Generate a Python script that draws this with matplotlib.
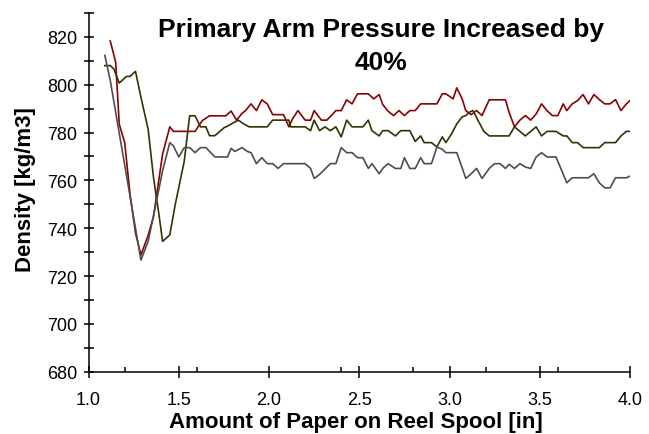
"""
Density of the wound paper against the amount of paper on the reel spool,
for the run with the primary arm pressure increased by 40%.
"""

import matplotlib
matplotlib.use("Agg")
from matplotlib import pyplot as plt
from matplotlib.ticker import MultipleLocator

# Trial 1 (dark red)
red_x = [1.12, 1.15, 1.17, 1.20, 1.23, 1.26, 1.29, 1.33, 1.36, 1.41, 1.45,
         1.47, 1.59, 1.63, 1.67, 1.76, 1.79, 1.82, 1.85, 1.87, 1.90, 1.93,
         1.96, 1.99, 2.02, 2.08, 2.11, 2.13, 2.16, 2.20, 2.23, 2.25, 2.29,
         2.32, 2.35, 2.37, 2.40, 2.43, 2.46, 2.49, 2.55, 2.58, 2.61, 2.63,
         2.66, 2.69, 2.72, 2.75, 2.78, 2.81, 2.84, 2.93, 2.96, 2.98, 3.02,
         3.04, 3.07, 3.09, 3.12, 3.15, 3.18, 3.22, 3.31, 3.33, 3.36, 3.39,
         3.42, 3.45, 3.48, 3.51, 3.54, 3.57, 3.60, 3.63, 3.65, 3.68, 3.71,
         3.74, 3.77, 3.80, 3.83, 3.86, 3.89, 3.92, 3.95, 3.98, 4.00, 4.02]
red_rho = [818.3, 809.5, 783.5, 775.8, 754.0, 738.0, 728.8, 737.0, 745.0,
           771.0, 782.4, 780.5, 780.5, 785.0, 787.0, 787.0, 789.0, 785.2,
           788.0, 789.2, 792.0, 789.2, 793.7, 792.0, 787.5, 787.5, 782.4,
           785.7, 789.2, 785.2, 785.2, 789.2, 785.2, 785.2, 787.5, 789.2,
           789.2, 793.7, 792.0, 796.2, 796.2, 794.1, 795.9, 791.7, 788.9,
           787.1, 789.2, 787.1, 789.2, 789.2, 792.0, 792.0, 796.2, 796.2,
           794.1, 798.7, 794.1, 789.2, 787.5, 789.2, 787.1, 793.7, 793.7,
           788.5, 782.4, 785.2, 787.1, 785.2, 787.8, 792.0, 789.2, 787.1,
           787.1, 792.0, 789.2, 792.0, 793.4, 795.9, 792.0, 795.9, 793.8,
           792.0, 792.0, 793.8, 789.2, 792.0, 793.4, 794.0]

# Trial 2 (dark olive)
olive_x = [1.09, 1.12, 1.14, 1.17, 1.21, 1.23, 1.26, 1.29, 1.33, 1.36, 1.39,
           1.41, 1.45, 1.48, 1.53, 1.56, 1.59, 1.62, 1.65, 1.67, 1.70, 1.75,
           1.77, 1.80, 1.83, 1.86, 1.89, 1.99, 2.02, 2.11, 2.12, 2.20, 2.23,
           2.25, 2.28, 2.31, 2.34, 2.37, 2.40, 2.43, 2.46, 2.52, 2.55, 2.57,
           2.61, 2.63, 2.66, 2.70, 2.73, 2.78, 2.81, 2.84, 2.86, 2.90, 2.93,
           2.96, 2.98, 3.01, 3.04, 3.07, 3.09, 3.11, 3.13, 3.16, 3.19, 3.22,
           3.33, 3.36, 3.39, 3.42, 3.45, 3.48, 3.51, 3.54, 3.59, 3.63, 3.65,
           3.68, 3.71, 3.74, 3.83, 3.86, 3.92, 3.95, 3.98, 4.02]
olive_rho = [808.0, 808.0, 806.6, 800.7, 803.5, 803.5, 805.6, 794.8, 781.4,
             761.0, 745.7, 734.5, 737.2, 749.9, 768.0, 787.0, 787.0, 782.4,
             782.4, 778.7, 778.7, 782.0, 782.7, 784.0, 785.2, 783.6, 782.4,
             782.4, 785.2, 785.2, 782.4, 782.4, 780.8, 785.2, 780.8, 782.4,
             780.8, 782.4, 778.2, 785.2, 782.4, 782.4, 785.2, 780.8, 778.6,
             780.8, 780.8, 778.6, 780.8, 780.8, 776.3, 778.6, 775.8, 775.8,
             774.0, 778.2, 775.8, 779.3, 783.6, 786.6, 787.1, 788.5, 789.2,
             784.8, 780.5, 778.6, 778.6, 782.4, 780.5, 778.6, 780.5, 782.4,
             778.6, 780.5, 780.5, 778.6, 778.6, 775.8, 775.8, 773.7, 773.7,
             775.8, 775.8, 778.6, 780.5, 780.5]

# Trial 3 (dark grey)
grey_x = [1.09, 1.12, 1.29, 1.33, 1.37, 1.41, 1.45, 1.47, 1.50, 1.53, 1.56,
          1.59, 1.62, 1.65, 1.70, 1.77, 1.79, 1.81, 1.85, 1.88, 1.90, 1.93,
          1.96, 1.99, 2.02, 2.05, 2.08, 2.20, 2.23, 2.25, 2.28, 2.34, 2.37,
          2.40, 2.43, 2.46, 2.49, 2.52, 2.55, 2.57, 2.61, 2.63, 2.66, 2.70,
          2.73, 2.75, 2.78, 2.81, 2.84, 2.86, 2.90, 2.93, 2.96, 2.98, 3.04,
          3.07, 3.09, 3.12, 3.15, 3.18, 3.22, 3.25, 3.28, 3.31, 3.33, 3.36,
          3.39, 3.42, 3.45, 3.48, 3.51, 3.54, 3.59, 3.65, 3.68, 3.77, 3.80,
          3.83, 3.86, 3.89, 3.92, 3.98, 4.02]
grey_rho = [812.3, 801.8, 726.7, 734.5, 749.0, 764.0, 775.8, 774.4, 769.8,
            773.7, 773.7, 771.6, 773.7, 773.7, 769.8, 769.8, 773.4, 772.1,
            773.7, 772.1, 771.6, 767.0, 769.5, 767.0, 767.0, 765.0, 767.0,
            767.0, 765.0, 760.8, 762.5, 767.0, 767.0, 773.7, 771.6, 771.6,
            769.5, 769.5, 765.0, 767.0, 762.8, 765.0, 767.0, 765.0, 765.0,
            769.5, 765.0, 765.0, 769.5, 767.0, 767.0, 774.0, 773.0, 771.6,
            771.6, 765.3, 760.8, 762.8, 765.0, 760.8, 765.0, 767.0, 767.0,
            765.0, 766.7, 765.0, 767.0, 765.6, 765.0, 769.8, 771.6, 769.8,
            769.8, 759.0, 761.1, 761.1, 762.8, 759.0, 756.9, 756.9, 761.1,
            761.1, 762.5]

TITLE_LINES = ["Primary Arm Pressure Increased by", "40%"]
X_LABEL = "Amount of Paper on Reel Spool [in]"
Y_LABEL = "Density [kg/m3]"


def create_density_plot(plot_fname, dpi=100):
    """Draw the three density traces and save the figure as plot_fname."""
    plt.rcParams["font.family"] = ["Liberation Sans", "DejaVu Sans"]

    fig = plt.figure(figsize=(6.49, 4.35), dpi=dpi)
    ax = fig.add_axes([0.1365, 0.1432, 0.8342, 0.8246])

    # the three runs
    ax.plot(red_x, red_rho, color="#8b0000", lw=1.2)
    ax.plot(olive_x, olive_rho, color="#333300", lw=1.2)
    ax.plot(grey_x, grey_rho, color="#4d4d4d", lw=1.2)

    ax.set_xlim(1.0, 4.0)
    ax.set_ylim(680, 830)

    # only the left and bottom axes are drawn
    for side in ("top", "right"):
        ax.spines[side].set_visible(False)
    for side in ("left", "bottom"):
        ax.spines[side].set_linewidth(1.1)
        ax.spines[side].set_color("black")

    ax.xaxis.set_major_locator(MultipleLocator(0.5))
    ax.xaxis.set_minor_locator(MultipleLocator(0.4))
    ax.yaxis.set_major_locator(MultipleLocator(20))
    ax.yaxis.set_minor_locator(MultipleLocator(10))
    ax.xaxis.set_major_formatter(lambda v, pos: f"{v:.1f}")

    ax.tick_params(axis="x", which="major", direction="inout", length=8.5,
                   width=1.1, pad=9.5, labelsize=13)
    ax.tick_params(axis="x", which="minor", direction="in", length=3.5,
                   width=1.1)
    ax.tick_params(axis="y", which="major", direction="inout", length=7,
                   width=1.1, pad=4.5, labelsize=13)
    ax.tick_params(axis="y", which="minor", direction="inout", length=7,
                   width=1.1)

    # title sits inside the plot area
    fig.text(381 / 649, 1 - 37 / 435, TITLE_LINES[0], ha="center",
             va="baseline", fontsize=19, fontweight="bold")
    fig.text(381 / 649, 1 - 70 / 435, TITLE_LINES[1], ha="center",
             va="baseline", fontsize=19, fontweight="bold")

    # axis labels
    fig.text(356 / 649, 1 - 428 / 435, X_LABEL, ha="center", va="baseline",
             fontsize=16, fontweight="bold")
    fig.text(26 / 649, 1 - 190 / 435, Y_LABEL, ha="center", va="center",
             rotation=90, fontsize=16, fontweight="bold")

    fig.savefig(plot_fname, dpi=dpi)
    plt.close(fig)


if __name__ == "__main__":
    create_density_plot("out.png", dpi=100)
